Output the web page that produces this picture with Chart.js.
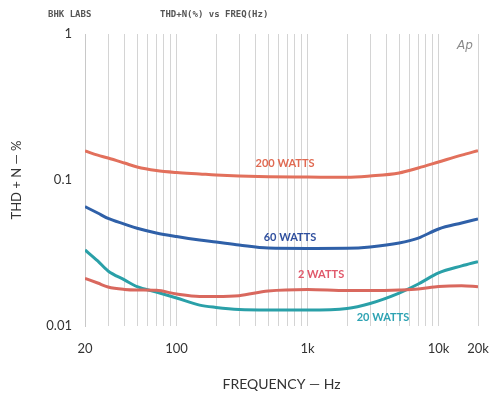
<!DOCTYPE html>
<html>
<head>
<meta charset="utf-8">
<script src="https://cdn.jsdelivr.net/npm/chart.js@4/dist/chart.umd.min.js"></script>
<style>
  html, body { margin: 0; padding: 0; background: #fff; }
  #wrap { width: 490px; height: 397px; }
</style>
</head>
<body>
<div id="wrap"><canvas id="thdChart" width="490" height="397"></canvas></div>
<script>
// frequency points (Hz)
const freqs = [20, 25, 30, 40, 50, 70, 100, 150, 200, 300, 500, 1000, 2000, 3000, 5000, 7000, 10000, 15000, 20000]

// THD+N (%) per output level
const thd200W = [0.158, 0.148, 0.1415, 0.1307, 0.1227, 0.1161, 0.1125, 0.110, 0.1082, 0.1065, 0.1053, 0.1048, 0.1043, 0.1065, 0.1117, 0.1208, 0.1328, 0.148, 0.1587]
const thd60W  = [0.0657, 0.0594, 0.0545, 0.0499, 0.0467, 0.0434, 0.0410, 0.0388, 0.0376, 0.0359, 0.0342, 0.0340, 0.0341, 0.0348, 0.0370, 0.0400, 0.0462, 0.0508, 0.0541]
const thd20W  = [0.0332, 0.0279, 0.0238, 0.0207, 0.0186, 0.0171, 0.01555, 0.0139, 0.0134, 0.01297, 0.01287, 0.01287, 0.01318, 0.01426, 0.0168, 0.0194, 0.0231, 0.0258, 0.0276]
const thd2W   = [0.0212, 0.0197, 0.0185, 0.0178, 0.01764, 0.01756, 0.01656, 0.01593, 0.01593, 0.01613, 0.01737, 0.0178, 0.0175, 0.0175, 0.01764, 0.0179, 0.01865, 0.0189, 0.01859]

// axis ticks
const xGridValues = [20, 30, 40, 50, 60, 70, 80, 90, 100, 200, 300, 400, 500, 600, 700, 800, 900,
  1000, 2000, 3000, 4000, 5000, 6000, 7000, 8000, 9000, 10000, 20000]
const xTickLabels = { 20: '20', 100: '100', 1000: '1k', 10000: '10k', 20000: '20k' }
const yTickValues = [0.01, 0.1, 1]
const yTickLabels = { 0.01: '0.01', 0.1: '0.1', 1: '1' }

// curve labels: text, freq, thd
const curveLabels = [
  { text: '200 WATTS', f: 673, v: 0.129, color: '#e06a52' },
  { text: '60 WATTS', f: 734, v: 0.0407, color: '#2f4f9e' },
  { text: '2 WATTS', f: 1268, v: 0.0227, color: '#e0586a' },
  { text: '20 WATTS', f: 3767, v: 0.01153, color: '#2ea3b3' }
]

const toPoints = (vals) => freqs.map((f, i) => ({ x: f, y: vals[i] }))

// header texts and curve labels
const textPlugin = {
  id: 'textPlugin',
  afterDatasetsDraw(chart) {
    const ctx = chart.ctx
    const xs = chart.scales.x
    const ys = chart.scales.y
    ctx.save()
    ctx.textBaseline = 'middle'
    ctx.textAlign = 'left'
    ctx.fillStyle = '#555'
    ctx.font = 'bold 9px "DejaVu Sans Mono"'
    ctx.fillText('BHK LABS', 48, 15)
    ctx.fillText('THD+N(%) vs FREQ(Hz)', 160, 15)

    ctx.fillStyle = '#8a8a8a'
    ctx.font = 'italic 12px "DejaVu Sans"'
    ctx.textAlign = 'center'
    ctx.fillText('Ap', 465, 46)

    ctx.font = 'bold 11px Lato'
    curveLabels.forEach(l => {
      ctx.fillStyle = l.color
      ctx.fillText(l.text, xs.getPixelForValue(l.f), ys.getPixelForValue(l.v))
    })
    ctx.restore()
  }
}

const ctx = document.getElementById('thdChart').getContext('2d')

new Chart(ctx, {
  type: 'line',
  data: {
    datasets: [
      { label: '200 WATTS', data: toPoints(thd200W), borderColor: '#e2705c' },
      { label: '60 WATTS', data: toPoints(thd60W), borderColor: '#2f60a8' },
      { label: '2 WATTS', data: toPoints(thd2W), borderColor: '#d9685e' },
      { label: '20 WATTS', data: toPoints(thd20W), borderColor: '#2aa0a8' }
    ]
  },
  options: {
    responsive: false,
    animation: false,
    layout: { padding: { top: 34, right: 12, bottom: 0, left: 0 } },
    elements: {
      point: { radius: 0 },
      line: { borderWidth: 3, tension: 0.4, cubicInterpolationMode: 'monotone', fill: false }
    },
    plugins: {
      legend: { display: false },
      tooltip: { enabled: false }
    },
    scales: {
      x: {
        type: 'logarithmic',
        min: 20,
        max: 20000,
        afterBuildTicks: (scale) => { scale.ticks = xGridValues.map(v => ({ value: v })) },
        afterFit: (scale) => {
          scale.height = 71
          scale.paddingLeft = 0
          scale.paddingRight = 0
        },
        grid: { color: '#d4d4d4', lineWidth: 1, drawTicks: false },
        border: { display: false },
        ticks: {
          autoSkip: false,
          maxRotation: 0,
          padding: 15,
          color: '#333',
          font: { family: 'Lato', size: 13 },
          callback: (v) => xTickLabels[v] || ''
        },
        title: {
          display: true,
          text: 'FREQUENCY — Hz',
          color: '#333',
          font: { family: 'Lato', size: 14 },
          padding: { top: 0, bottom: 4 }
        }
      },
      y: {
        type: 'logarithmic',
        min: 0.01,
        max: 1,
        afterBuildTicks: (scale) => { scale.ticks = yTickValues.map(v => ({ value: v })) },
        afterFit: (scale) => {
          scale.width = 85
          scale.paddingTop = 0
          scale.paddingBottom = 0
        },
        grid: { display: false, drawTicks: false },
        border: { display: true, color: '#c8c8c8' },
        ticks: {
          padding: 13,
          color: '#333',
          font: { family: 'Lato', size: 13 },
          callback: (v) => yTickLabels[v] || ''
        },
        title: {
          display: true,
          text: 'THD + N — %',
          color: '#333',
          font: { family: 'Lato', size: 13 },
          padding: { top: 9, bottom: 0 }
        }
      }
    }
  },
  plugins: [textPlugin]
})
</script>
</body>
</html>
